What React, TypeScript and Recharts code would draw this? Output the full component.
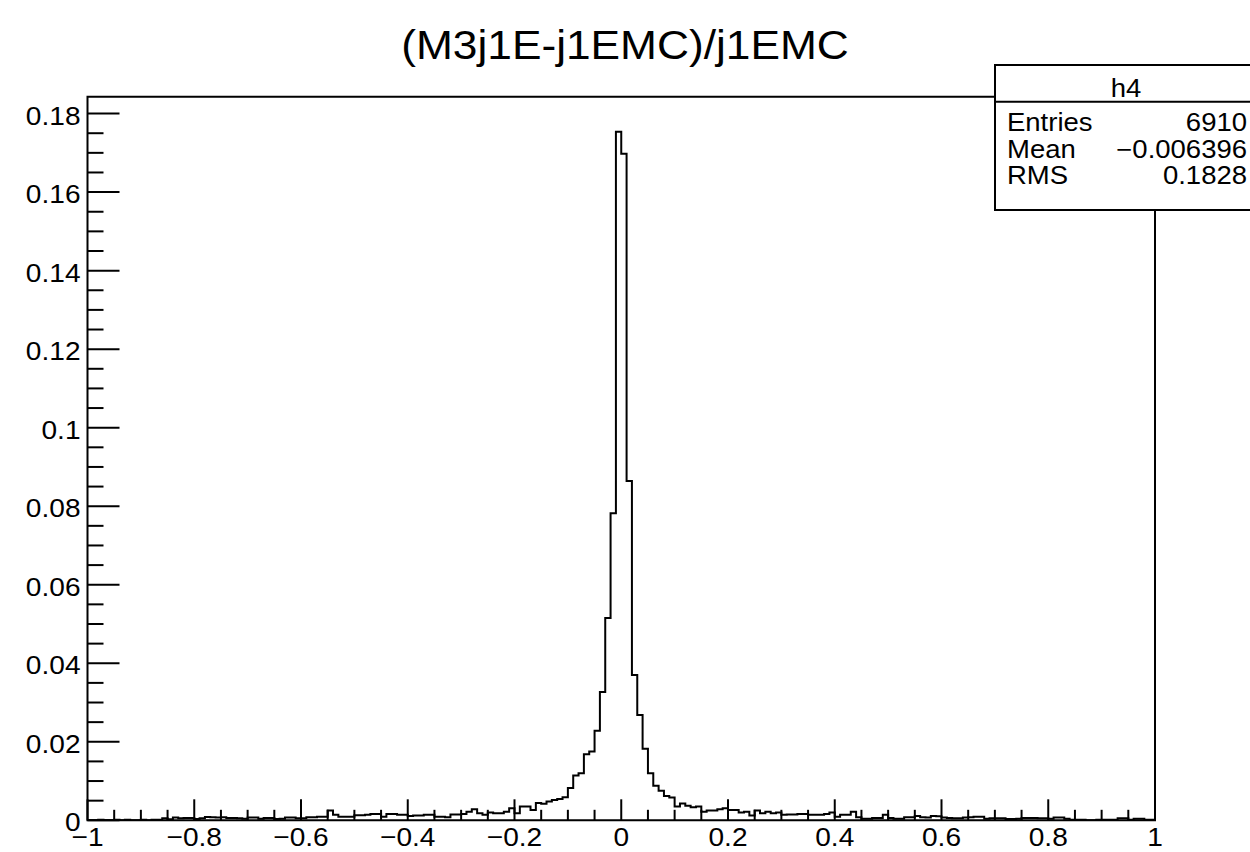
import React from "react";
import { ComposedChart, Line, XAxis, YAxis, ReferenceArea } from "recharts";

// histogram h4: 200 bins from -1 to 1, normalised
const binLow = -1;
const binWidth = 0.01;
const binValues = [
  0, 0, 0.00015, 0, 0, 0.00015, 0, 0.00015, 0, 0,
  0.00015, 0, 0.00015, 0.00015, 0.0005, 0.00025, 0.0007, 0.0005, 0.0006, 0.0006,
  0.00035, 0.0005, 0.00085, 0.00075, 0.0007, 0.00075, 0.0006, 0.0006, 0.0005, 0.0004,
  0.0007, 0.0007, 0.0004, 0.0006, 0.0006, 0.00035, 0.0004, 0.0007, 0.0007, 0.0005,
  0.0005, 0.00075, 0.00075, 0.00093, 0.00093, 0.0025, 0.0014, 0.00093, 0.00093, 0.00093,
  0.0013, 0.0013, 0.0014, 0.0016, 0.0016, 0.00093, 0.0016, 0.0016, 0.0014, 0.0014,
  0.0011, 0.0012, 0.0012, 0.0014, 0.0014, 0.00093, 0.00093, 0.00076, 0.0015, 0.0015,
  0.0016, 0.0022, 0.0028, 0.0018, 0.0014, 0.002, 0.0018, 0.0018, 0.0022, 0.0031,
  0.0018, 0.0035, 0.0035, 0.0026, 0.0044, 0.0042, 0.0048, 0.0052, 0.0054, 0.0059,
  0.0082, 0.0114, 0.012, 0.0168, 0.0175, 0.0228, 0.0327, 0.0515, 0.0782, 0.1754,
  0.1698, 0.0864, 0.037, 0.0268, 0.0182, 0.012, 0.0088, 0.0075, 0.0062, 0.0058,
  0.0035, 0.0043, 0.0037, 0.0033, 0.0035, 0.0022, 0.0025, 0.0025, 0.0028, 0.0031,
  0.0026, 0.0026, 0.002, 0.0022, 0.0012, 0.0025, 0.0018, 0.0022, 0.0018, 0.002,
  0.0014, 0.0015, 0.0015, 0.0016, 0.0016, 0.0014, 0.0014, 0.0014, 0.0016, 0.002,
  0.0009, 0.0014, 0.0014, 0.0022, 0.0008, 0.0004, 0.0004, 0.0006, 0.0006, 0.0014,
  0.0006, 0.0004, 0.0004, 0.0008, 0.0008, 0.0011, 0.0008, 0.0007, 0.0011, 0.001,
  0.0007, 0.0006, 0.0005, 0.0005, 0.0007, 0.0008, 0.0009, 0.0009, 0.0004, 0.0005,
  0.0005, 0.0005, 0.0003, 0.0003, 0.0004, 0.0006, 0.0006, 0.0006, 0.0005, 0.0005,
  0.0004, 0.0007, 0.0007, 0.0004, 0.00015, 0.00015, 0.00015, 0, 0, 0.00015,
  0.00015, 0.00015, 0.00015, 0.0005, 0.0005, 0.00015, 0.0004, 0.0004, 0.00015, 0.00015,
];

const xMajorTicks = [-1, -0.8, -0.6, -0.4, -0.2, 0, 0.2, 0.4, 0.6, 0.8, 1];
const xTickLabels = ["\u22121", "\u22120.8", "\u22120.6", "\u22120.4", "\u22120.2", "0", "0.2", "0.4", "0.6", "0.8", "1"];
const yMajorTicks = [0, 0.02, 0.04, 0.06, 0.08, 0.1, 0.12, 0.14, 0.16, 0.18];
const yTickLabels = ["0", "0.02", "0.04", "0.06", "0.08", "0.1", "0.12", "0.14", "0.16", "0.18"];
const yMax = 0.1843;

const title = "(M3j1E-j1EMC)/j1EMC";
const statsName = "h4";
const statsLabels = ["Entries", "Mean", "RMS"];
const statsValues = ["6910", "\u22120.006396", "0.1828"];

const FONT = "'Liberation Sans', Arial, Helvetica, sans-serif";
const SX = 1.08; // the picture is a bit stretched sideways

const data = binValues
  .map((v, i) => ({ x: binLow + i * binWidth, v }))
  .concat([{ x: binLow + binValues.length * binWidth, v: binValues[binValues.length - 1] }]);

const xAllTicks = Array.from({ length: 41 }, (_, i) => Number((-1 + i * 0.05).toFixed(3)));
const yAllTicks = Array.from({ length: 37 }, (_, i) => Number((i * 0.005).toFixed(4)));

const findMajor = (list: number[], v: number) => list.findIndex((t) => Math.abs(t - v) < 1e-6);

function STxt({ x, y, anchor, size, sx = SX, children }: any) {
  return (
    <text
      transform={`translate(${x},${y}) scale(${sx},1)`}
      textAnchor={anchor}
      fontFamily={FONT}
      fontSize={size}
      fill="#000"
    >
      {children}
    </text>
  );
}

function XTick(props: any) {
  const { x, y, payload } = props;
  const idx = findMajor(xMajorTicks, payload.value);
  const len = idx >= 0 ? 21 : 10.5;
  return (
    <g>
      <line x1={x} x2={x} y1={y} y2={y - len} stroke="#000" strokeWidth={2} />
      {idx >= 0 && (
        <STxt x={x} y={y + 25.5} anchor="middle" size={26}>
          {xTickLabels[idx]}
        </STxt>
      )}
    </g>
  );
}

function YTick(props: any) {
  const { x, y, payload } = props;
  const idx = findMajor(yMajorTicks, payload.value);
  const len = idx >= 0 ? 32 : 16;
  return (
    <g>
      <line x1={x} x2={x + len} y1={y} y2={y} stroke="#000" strokeWidth={2} />
      {idx >= 0 && (
        <STxt x={x - 7} y={y + 11} anchor="end" size={26}>
          {yTickLabels[idx]}
        </STxt>
      )}
    </g>
  );
}

export default function App() {
  return (
    <div style={{ position: "absolute", left: 0, top: 0, width: 1250, height: 852, overflow: "hidden", background: "#fff" }}>
      <ComposedChart
        width={1250}
        height={852}
        data={data}
        margin={{ top: 96.7, right: 95, left: 7.5, bottom: 1.7 }}
      >
        <XAxis
          dataKey="x"
          type="number"
          domain={[-1, 1]}
          ticks={xAllTicks}
          interval={0}
          tickSize={0}
          tickMargin={0}
          axisLine={false}
          tick={<XTick />}
          height={30}
          allowDataOverflow
        />
        <YAxis
          type="number"
          domain={[0, yMax]}
          ticks={yAllTicks}
          interval={0}
          tickSize={0}
          tickMargin={0}
          axisLine={false}
          tick={<YTick />}
          width={80}
          allowDataOverflow
        />
        <ReferenceArea
          x1={-1}
          x2={1}
          y1={0}
          y2={yMax}
          fill="none"
          fillOpacity={0}
          stroke="#000"
          strokeWidth={2}
          ifOverflow="visible"
        />
        <Line
          type="stepAfter"
          dataKey="v"
          stroke="#000"
          strokeWidth={2}
          dot={false}
          activeDot={false}
          isAnimationActive={false}
        />
      </ComposedChart>
      <svg width={1250} height={852} style={{ position: "absolute", left: 0, top: 0, pointerEvents: "none" }}>
        <STxt x={625} y={59} anchor="middle" size={41}>
          {title}
        </STxt>
        <rect x={995} y={65} width={262} height={145} fill="#fff" stroke="#000" strokeWidth={2} />
        <line x1={995} x2={1257} y1={101.7} y2={101.7} stroke="#000" strokeWidth={2} />
        <STxt x={1126} y={96.5} anchor="middle" size={25} sx={1.1}>
          {statsName}
        </STxt>
        {statsLabels.map((l, i) => (
          <g key={l}>
            <STxt x={1007} y={131 + i * 26.5} anchor="start" size={25} sx={1.1}>
              {l}
            </STxt>
            <STxt x={1247} y={131 + i * 26.5} anchor="end" size={25} sx={1.1}>
              {statsValues[i]}
            </STxt>
          </g>
        ))}
      </svg>
    </div>
  );
}
